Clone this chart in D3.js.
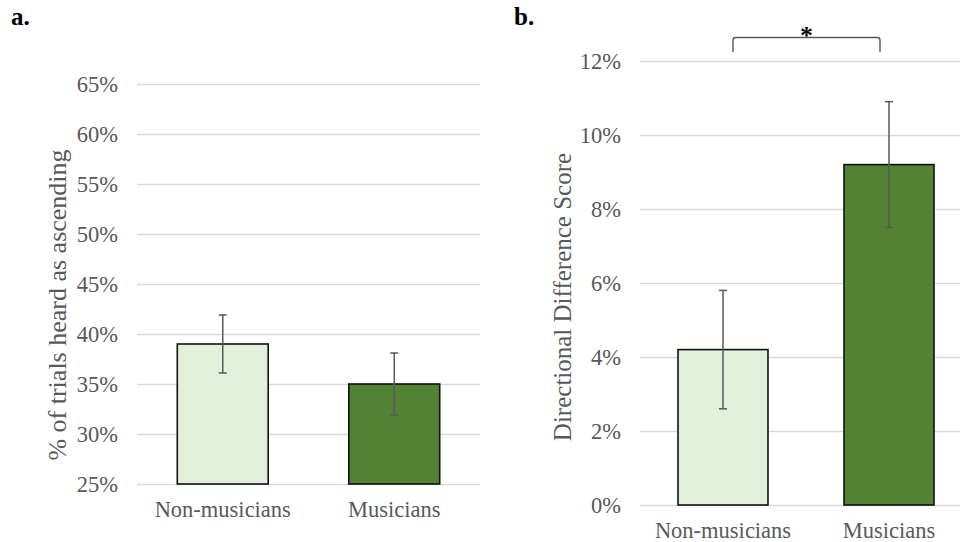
<!DOCTYPE html>
<html>
<head>
<meta charset="utf-8">
<script src="https://cdn.jsdelivr.net/npm/d3@7"></script>
<style>
  body { margin: 0; background: #fff; }
  svg { display: block; }
  .tick text { font-family: "Liberation Serif", "Times New Roman", serif; fill: #595959; }
</style>
</head>
<body>
<script>
// data
var categories = ["Non-musicians", "Musicians"];
var barColors = ["#e2efda", "#548235"];

// panel a: % of trials heard as ascending
var ascendMean = [0.39, 0.35];
var ascendErr = [0.029, 0.031];
var ticksA = [0.25, 0.30, 0.35, 0.40, 0.45, 0.50, 0.55, 0.60, 0.65];

// panel b: directional difference score
var dirMean = [0.042, 0.092];
var dirErr = [0.016, 0.017];
var ticksB = [0, 0.02, 0.04, 0.06, 0.08, 0.10, 0.12];

var serif = "'Liberation Serif', 'Times New Roman', serif";
var grey = "#595959";

var svg = d3.select("body").append("svg")
    .attr("width", 960)
    .attr("height", 542);

function drawPanel(opts) {
  var x = d3.scaleBand()
    .domain(categories)
    .range([opts.left, opts.right])
    .paddingInner(opts.pad)
    .paddingOuter(opts.pad / 2);

  var y = d3.scaleLinear()
    .domain(opts.domain)
    .range([opts.bottom, opts.top]);

  var yAxis = d3.axisLeft(y)
    .tickValues(opts.ticks)
    .tickSize(-(opts.right - opts.left))
    .tickPadding(19)
    .tickFormat(d3.format(".0%"));

  var g = svg.append("g")
    .attr("transform", "translate(" + opts.left + ",0)")
    .call(yAxis);
  g.select(".domain").remove();
  g.selectAll(".tick line")
    .attr("stroke", "#d9d9d9")
    .attr("stroke-width", 1.4);
  g.selectAll(".tick text")
    .attr("font-size", 22.5);

  // bars
  svg.selectAll(null)
    .data(opts.mean)
    .enter().append("rect")
      .attr("x", function(d, i) { return x(categories[i]); })
      .attr("y", function(d) { return y(d); })
      .attr("width", x.bandwidth())
      .attr("height", function(d) { return opts.bottom - y(d); })
      .attr("fill", function(d, i) { return barColors[i]; })
      .attr("stroke", "#111")
      .attr("stroke-width", 1.6);

  // error bars
  var eb = svg.selectAll(null)
    .data(opts.mean)
    .enter().append("g")
      .attr("stroke", grey)
      .attr("stroke-width", 1.5);
  eb.append("line")
    .attr("x1", function(d, i) { return x(categories[i]) + x.bandwidth() / 2; })
    .attr("x2", function(d, i) { return x(categories[i]) + x.bandwidth() / 2; })
    .attr("y1", function(d, i) { return y(d + opts.err[i]); })
    .attr("y2", function(d, i) { return y(d - opts.err[i]); });
  [1, -1].forEach(function(s) {
    eb.append("line")
      .attr("x1", function(d, i) { return x(categories[i]) + x.bandwidth() / 2 - 4; })
      .attr("x2", function(d, i) { return x(categories[i]) + x.bandwidth() / 2 + 4; })
      .attr("y1", function(d, i) { return y(d + s * opts.err[i]); })
      .attr("y2", function(d, i) { return y(d + s * opts.err[i]); });
  });

  // category labels
  svg.selectAll(null)
    .data(categories)
    .enter().append("text")
      .attr("x", function(d) { return x(d) + x.bandwidth() / 2; })
      .attr("y", opts.bottom + 33)
      .attr("text-anchor", "middle")
      .attr("font-family", serif)
      .attr("font-size", 22.5)
      .attr("fill", grey)
      .text(function(d) { return d; });

  // y axis title
  svg.append("text")
    .attr("transform", "translate(" + opts.titleX + "," + opts.titleY + ") rotate(-90)")
    .attr("text-anchor", "middle")
    .attr("font-family", serif)
    .attr("font-size", opts.titleSize)
    .attr("fill", grey)
    .text(opts.title);

  // panel letter
  svg.append("text")
    .attr("x", opts.letterX)
    .attr("y", 25)
    .attr("font-family", serif)
    .attr("font-weight", "bold")
    .attr("font-size", 25)
    .attr("fill", "#000")
    .text(opts.letter);

  return {x: x, y: y};
}

drawPanel({
  left: 137, right: 480, top: 84, bottom: 484,
  pad: 0.47, domain: [0.25, 0.65], ticks: ticksA,
  mean: ascendMean, err: ascendErr,
  title: "% of trials heard as ascending", titleX: 66, titleY: 305, titleSize: 26,
  letter: "a.", letterX: 11
});

var b = drawPanel({
  left: 640, right: 972, top: 61, bottom: 505,
  pad: 0.458, domain: [0, 0.12], ticks: ticksB,
  mean: dirMean, err: dirErr,
  title: "Directional Difference Score", titleX: 571, titleY: 297, titleSize: 25,
  letter: "b.", letterX: 514
});

// significance bracket over panel b
var c0 = b.x(categories[0]) + b.x.bandwidth() / 2,
    c1 = b.x(categories[1]) + b.x.bandwidth() / 2;
var bx1 = c0 + 10, bx2 = c1 - 9;
svg.append("path")
  .attr("d", "M" + bx1 + ",52 V40 Q" + bx1 + ",37.5 " + (bx1 + 3) + ",37.5 H" + (bx2 - 3) +
        " Q" + bx2 + ",37.5 " + bx2 + ",40 V52")
  .attr("fill", "none")
  .attr("stroke", grey)
  .attr("stroke-width", 1.4);

svg.append("text")
  .attr("x", (bx1 + bx2) / 2)
  .attr("y", 44)
  .attr("text-anchor", "middle")
  .attr("font-family", serif)
  .attr("font-weight", "bold")
  .attr("font-size", 26)
  .attr("fill", "#000")
  .text("*");
</script>
</body>
</html>
